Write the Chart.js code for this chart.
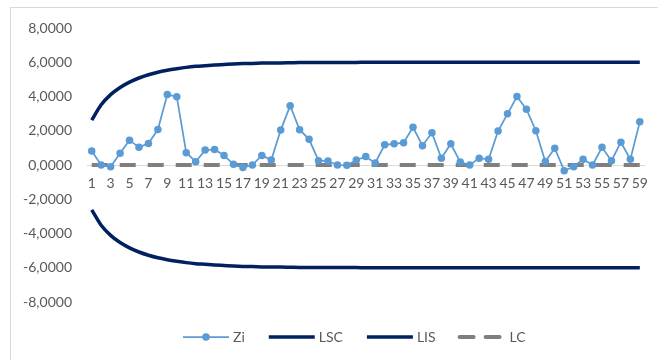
<!DOCTYPE html>
<html>
<head>
<meta charset="utf-8">
<script src="https://cdn.jsdelivr.net/npm/chart.js@4/dist/chart.umd.min.js"></script>
<style>
  html, body { margin: 0; padding: 0; background: #fff; }
  #wrap { position: relative; width: 658px; height: 360px; }
</style>
</head>
<body>
<div id="wrap"><canvas id="c" width="658" height="360"></canvas></div>
<script>
// Sample numbers 1..59
const categories = Array.from({ length: 59 }, (_, i) => String(i + 1));

// EWMA statistic
const zi = [
  0.82, 0.00, -0.10, 0.68, 1.45, 1.03, 1.26, 2.07, 4.11, 3.99,
  0.72, 0.19, 0.87, 0.91, 0.56, 0.04, -0.15, 0.00, 0.56, 0.29,
  2.04, 3.46, 2.06, 1.50, 0.25, 0.23, 0.00, -0.02, 0.29, 0.49,
  0.12, 1.18, 1.24, 1.30, 2.20, 1.13, 1.88, 0.39, 1.24, 0.17,
  0.00, 0.40, 0.33, 1.98, 2.99, 4.00, 3.26, 2.00, 0.20, 0.98,
  -0.33, -0.10, 0.33, 0.00, 1.03, 0.25, 1.33, 0.33, 2.52
];

// Upper control limit
const lsc = [
  2.62, 3.52, 4.11, 4.53, 4.84, 5.08, 5.27, 5.42, 5.53, 5.62,
  5.70, 5.76, 5.80, 5.84, 5.87, 5.90, 5.92, 5.93, 5.95, 5.96,
  5.96, 5.97, 5.98, 5.98, 5.98, 5.99, 5.99, 5.99, 5.99, 6.00,
  6.00, 6.00, 6.00, 6.00, 6.00, 6.00, 6.00, 6.00, 6.00, 6.00,
  6.00, 6.00, 6.00, 6.00, 6.00, 6.00, 6.00, 6.00, 6.00, 6.00,
  6.00, 6.00, 6.00, 6.00, 6.00, 6.00, 6.00, 6.00, 6.00
];

// Lower control limit
const lis = [
  -2.62, -3.52, -4.11, -4.53, -4.84, -5.08, -5.27, -5.42, -5.53, -5.62,
  -5.70, -5.76, -5.80, -5.84, -5.87, -5.90, -5.92, -5.93, -5.95, -5.96,
  -5.96, -5.97, -5.98, -5.98, -5.98, -5.99, -5.99, -5.99, -5.99, -6.00,
  -6.00, -6.00, -6.00, -6.00, -6.00, -6.00, -6.00, -6.00, -6.00, -6.00,
  -6.00, -6.00, -6.00, -6.00, -6.00, -6.00, -6.00, -6.00, -6.00, -6.00,
  -6.00, -6.00, -6.00, -6.00, -6.00, -6.00, -6.00, -6.00, -6.00
];

// Center line
const lc = Array.from({ length: 59 }, () => 0);

const yMin = -8, yMax = 8, yStep = 2;

const FONT = 'Lato, "Open Sans", sans-serif';
const FONT_SIZE = 14;
const TEXT = '#595959';
const BLUE = '#5B9BD5';
const NAVY = '#002060';
const GRAY = '#7F7F7F';

// Outer frame of the chart object
const framePlugin = {
  id: 'frame',
  beforeDraw(chart) {
    const ctx = chart.ctx;
    ctx.save();
    ctx.fillStyle = '#fff';
    ctx.fillRect(0, 0, chart.width, chart.height);
    ctx.strokeStyle = '#d9d9d9';
    ctx.lineWidth = 1;
    ctx.strokeRect(10.5, 7.5, 700, 420);
    ctx.restore();
  }
};

// Legend with line samples, dashes and markers
const legendPlugin = {
  id: 'lineLegend',
  afterDraw(chart) {
    const ctx = chart.ctx;
    const y = 337;
    let x = 183;
    const sampleW = 46;
    ctx.save();
    ctx.font = FONT_SIZE + 'px ' + FONT;
    ctx.textBaseline = 'middle';
    chart.data.datasets.forEach((ds) => {
      ctx.save();
      ctx.strokeStyle = ds.borderColor;
      ctx.lineWidth = ds.borderWidth;
      ctx.setLineDash(ds.legendDash || []);
      ctx.lineCap = ds.legendDash ? 'round' : 'butt';
      ctx.beginPath();
      ctx.moveTo(x, y);
      ctx.lineTo(x + sampleW, y);
      ctx.stroke();
      ctx.setLineDash([]);
      if (ds.pointRadius > 0) {
        ctx.fillStyle = ds.pointBackgroundColor;
        ctx.beginPath();
        ctx.arc(x + sampleW / 2, y, ds.pointRadius, 0, Math.PI * 2);
        ctx.fill();
      }
      ctx.restore();
      ctx.fillStyle = TEXT;
      ctx.fillText(ds.label, x + sampleW + 4, y);
      x += sampleW + 4 + ctx.measureText(ds.label).width + 24;
    });
    ctx.restore();
  }
};

new Chart(document.getElementById('c'), {
  type: 'line',
  data: {
    labels: categories,
    datasets: [
      {
        label: 'Zi', data: zi,
        borderColor: BLUE, backgroundColor: BLUE,
        pointBackgroundColor: BLUE, pointBorderColor: BLUE,
        borderWidth: 1.75, pointRadius: 3.75, pointBorderWidth: 0,
        tension: 0
      },
      {
        label: 'LSC', data: lsc,
        borderColor: NAVY, borderWidth: 3.5, pointRadius: 0, tension: 0.4,
        cubicInterpolationMode: 'monotone'
      },
      {
        label: 'LIS', data: lis,
        borderColor: NAVY, borderWidth: 3.5, pointRadius: 0, tension: 0.4,
        cubicInterpolationMode: 'monotone'
      },
      {
        label: 'LC', data: lc,
        borderColor: GRAY, borderWidth: 4, pointRadius: 0,
        borderDash: [16, 12], legendDash: [14, 12]
      }
    ]
  },
  options: {
    responsive: false,
    animation: false,
    events: [],
    layout: { padding: { left: 0, right: 9, top: 28, bottom: 58 } },
    plugins: {
      legend: { display: false },
      tooltip: { enabled: false }
    },
    scales: {
      x: {
        position: { y: 0 },
        offset: true,
        grid: { display: false, drawTicks: false },
        border: { display: true, color: '#d9d9d9', width: 1 },
        ticks: {
          autoSkip: false, maxRotation: 0, minRotation: 0, padding: 10,
          color: TEXT, font: { family: FONT, size: FONT_SIZE },
          callback: (v, i) => (i % 2 === 0 ? categories[i] : '')
        }
      },
      y: {
        min: yMin, max: yMax,
        grid: { display: false, drawTicks: false },
        border: { display: false },
        afterFit: (s) => { s.width = 87; },
        ticks: {
          stepSize: yStep, padding: 15,
          color: TEXT, font: { family: FONT, size: FONT_SIZE },
          callback: (v) => v.toFixed(4).replace('.', ',')
        }
      }
    }
  },
  plugins: [framePlugin, legendPlugin]
});
</script>
</body>
</html>
